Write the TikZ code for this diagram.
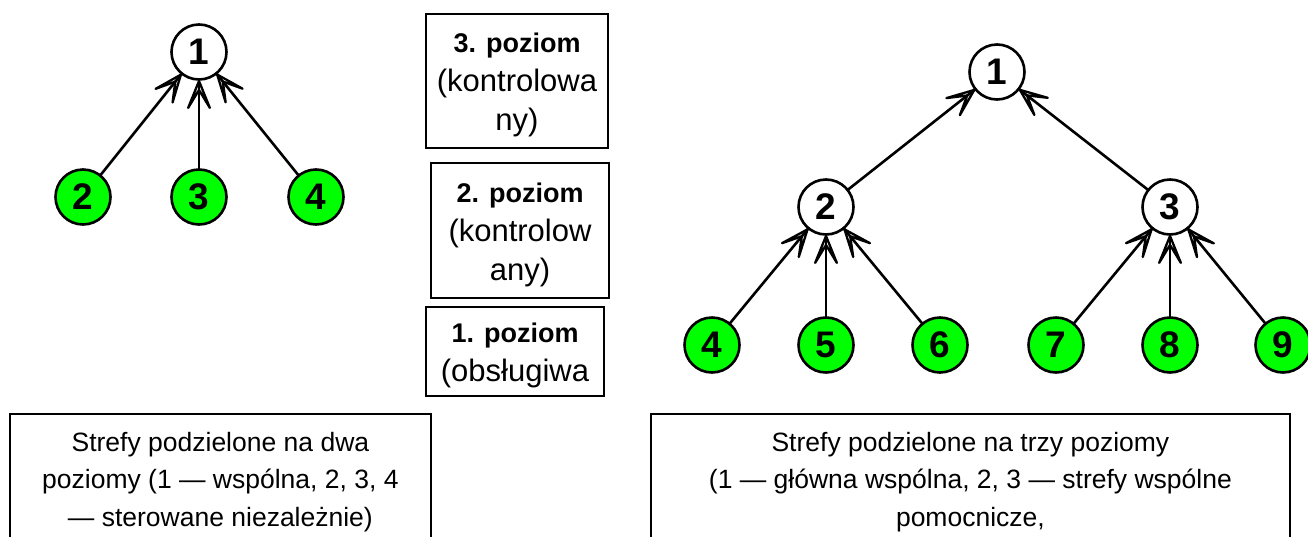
\documentclass[tikz,border=0pt]{standalone}
\usepackage{fontspec}
\setmainfont{Liberation Sans}
\usetikzlibrary{calc}
\definecolor{nodegreen}{RGB}{0,255,0}
\tikzset{
  zone/.style={circle, draw, line width=2.6pt, minimum size=55pt, inner sep=0pt, outer sep=0pt,
    font=\bfseries\fontsize{37}{37}\selectfont},
  leaf/.style={zone, fill=nodegreen},
  root/.style={zone, fill=white},
  shaft/.style={line width=2.6pt},
  headline/.style={line width=2.3pt, line join=round},
  levelbox/.style={draw, line width=1.8pt, align=center, inner sep=0pt,
    font=\fontsize{31}{39}\selectfont},
  bottombox/.style={draw, line width=1.8pt, inner sep=0pt, anchor=north west,
    font=\fontsize{26.5}{37.5}\selectfont},
}
% arrow from node #1 to node #2, open barbed head at #2
\newcommand\zonearrow[2]{%
  \draw[shaft] (#1) -- (#2);
  \coordinate (tip) at ($(#2)!29pt!(#1)$);
  \draw[headline] (tip) -- ($(tip)!29pt!22:(#1)$) -- ($(tip)!9pt!(#1)$)
     -- ($(tip)!29pt!-22:(#1)$) -- cycle;
}
\newcommand\leveltitle[1]{\rule{0pt}{28pt}\textbf{\fontsize{27}{39}\selectfont #1}}
\begin{document}
\begin{tikzpicture}[x=1pt,y=-1pt]
\useasboundingbox (0,0) rectangle (1308,536);
\clip (0,0) rectangle (1308,536);
\fill[white] (0,0) rectangle (1308,536);

% left tree
\node[root] (a1) at (199,52) {1};
\node[leaf] (a2) at (83,197) {2};
\node[leaf] (a3) at (199,197) {3};
\node[leaf] (a4) at (316,197) {4};
\zonearrow{a2}{a1}
\zonearrow{a3}{a1}
\zonearrow{a4}{a1}

% right tree
\node[root] (b1) at (997,72) {1};
\node[root] (b2) at (826,207) {2};
\node[root] (b3) at (1170,207) {3};
\node[leaf] (b4) at (712,345) {4};
\node[leaf] (b5) at (826,345) {5};
\node[leaf] (b6) at (940,345) {6};
\node[leaf] (b7) at (1056,345) {7};
\node[leaf] (b8) at (1170,345) {8};
\node[leaf] (b9) at (1283,345) {9};
\zonearrow{b2}{b1}
\zonearrow{b3}{b1}
\zonearrow{b4}{b2}
\zonearrow{b5}{b2}
\zonearrow{b6}{b2}
\zonearrow{b7}{b3}
\zonearrow{b8}{b3}
\zonearrow{b9}{b3}

% level boxes
\node[levelbox, minimum width=182pt, minimum height=134pt] (p3) at (517,81)
  {\leveltitle{3. poziom}\\(kontrolowa\\ny)};
\node[levelbox, minimum width=178pt, minimum height=135pt] (p2) at (520,230.5)
  {\leveltitle{2. poziom}\\(kontrolow\\any)};
\node[levelbox, minimum width=178pt, minimum height=89pt] (p1) at (515,351.5)
  {\leveltitle{1. poziom}\\(obsługiwa};

% bottom boxes
\node[bottombox] (lbox) at (9,413)
  {\parbox[t][150pt][t]{421pt}{\centering\vspace*{18pt}Strefy podzielone na dwa\\
   poziomy (1 — wspólna, 2, 3, 4\\ — sterowane niezależnie)}};
\node[bottombox] (rbox) at (650,413)
  {\parbox[t][150pt][t]{639pt}{\centering\vspace*{18pt}Strefy podzielone na trzy poziomy\\
   (1 — główna wspólna, 2, 3 — strefy wspólne\\ pomocnicze,}};
\end{tikzpicture}
\end{document}
